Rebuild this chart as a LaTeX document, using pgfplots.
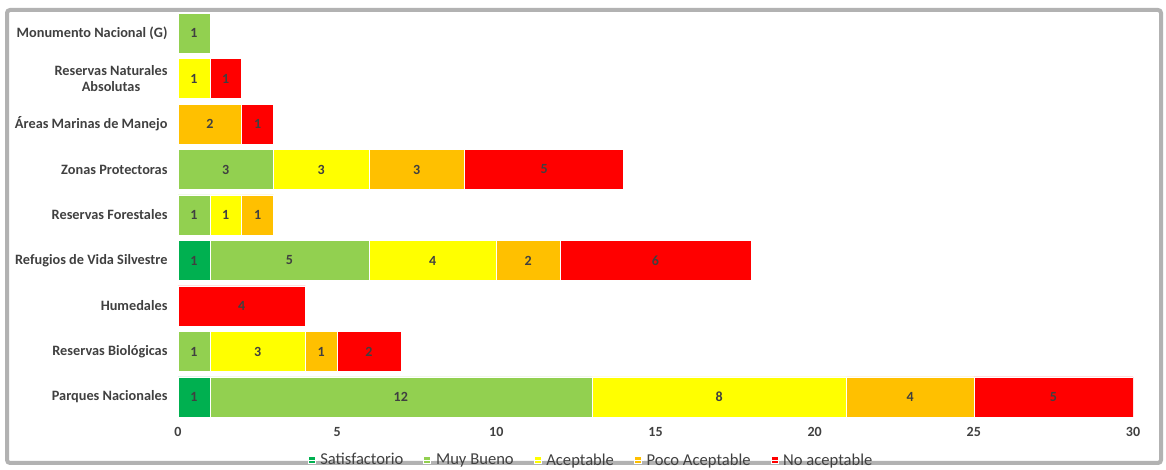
\documentclass[border=0pt]{standalone}
\usepackage{pgfplots}
\pgfplotsset{compat=1.18}
\usepackage{pgfplotstable}
\usepackage{fontspec}
\setmainfont{Carlito}
\definecolor{cSat}{HTML}{00B050}
\definecolor{cMB}{HTML}{92D050}
\definecolor{cAc}{HTML}{FFFF00}
\definecolor{cPA}{HTML}{FFC000}
\definecolor{cNA}{HTML}{FF0000}
\definecolor{lbl}{HTML}{404040}
\pgfplotstableread{
idx s mb a pa na
0 1 12 8 4 5
1 0 1 3 1 2
2 0 0 0 0 4
3 1 5 4 2 6
4 0 1 1 1 0
5 0 3 3 3 5
6 0 0 0 2 1
7 0 0 1 0 1
8 0 1 0 0 0
}\data
\begin{document}
\begin{tikzpicture}
\useasboundingbox (0,0) rectangle (1166pt,470pt);
\draw[line width=4pt, black!30, rounded corners=3pt] (7pt,7pt) rectangle (1161pt,460pt);
\begin{axis}[
  at={(178pt,50.25pt)}, anchor=south west,
  scale only axis, width=955pt, height=409.5pt,
  xbar stacked, bar width=40pt,
  xmin=0, xmax=30, ymin=-0.5, ymax=8.5,
  xtick={0,5,...,30},
  ytick={0,...,8},
  yticklabels={Parques Nacionales, Reservas Biológicas, Humedales, Refugios de Vida Silvestre, Reservas Forestales, Zonas Protectoras, Áreas Marinas de Manejo, {Reservas Naturales\\Absolutas}, Monumento Nacional (G)},
  axis line style={draw=none},
  major tick length=0pt,
  /pgf/number format/assume math mode=true,
  yticklabel style={font=\bfseries\fontsize{14.3}{16}\selectfont, text=lbl, align=center, xshift=-7pt},
  xticklabel style={font=\bfseries\fontsize{14}{15}\selectfont, text=lbl, yshift=-4pt},
  point meta=explicit,
  nodes near coords={\pgfmathfloatifflags{\pgfplotspointmeta}{0}{}{\pgfmathprintnumber{\pgfplotspointmeta}}},
  every node near coord/.append style={anchor=center, font=\bfseries\fontsize{14}{15}\selectfont, text=lbl},
  legend columns=5,
  legend style={at={(0.4325,-0.0983)}, anchor=center, draw=none, fill=none, font=\fontsize{16.6}{17}\selectfont, text=lbl, /tikz/every even column/.append style={column sep=18pt}},
  legend image code/.code={\fill[#1] (0pt,-3.5pt) rectangle (7pt,3.5pt); \path (0pt,0pt) -- (10pt,0pt);},
]
\addplot[fill=cSat, draw=white, line width=0.6pt] table[x=s,y=idx,meta=s] {\data};
\addplot[fill=cMB, draw=white, line width=0.6pt] table[x=mb,y=idx,meta=mb] {\data};
\addplot[fill=cAc, draw=white, line width=0.6pt] table[x=a,y=idx,meta=a] {\data};
\addplot[fill=cPA, draw=white, line width=0.6pt] table[x=pa,y=idx,meta=pa] {\data};
\addplot[fill=cNA, draw=white, line width=0.6pt] table[x=na,y=idx,meta=na] {\data};
\legend{Satisfactorio, Muy Bueno, Aceptable, Poco Aceptable, No aceptable}
\end{axis}
\end{tikzpicture}
\end{document}
